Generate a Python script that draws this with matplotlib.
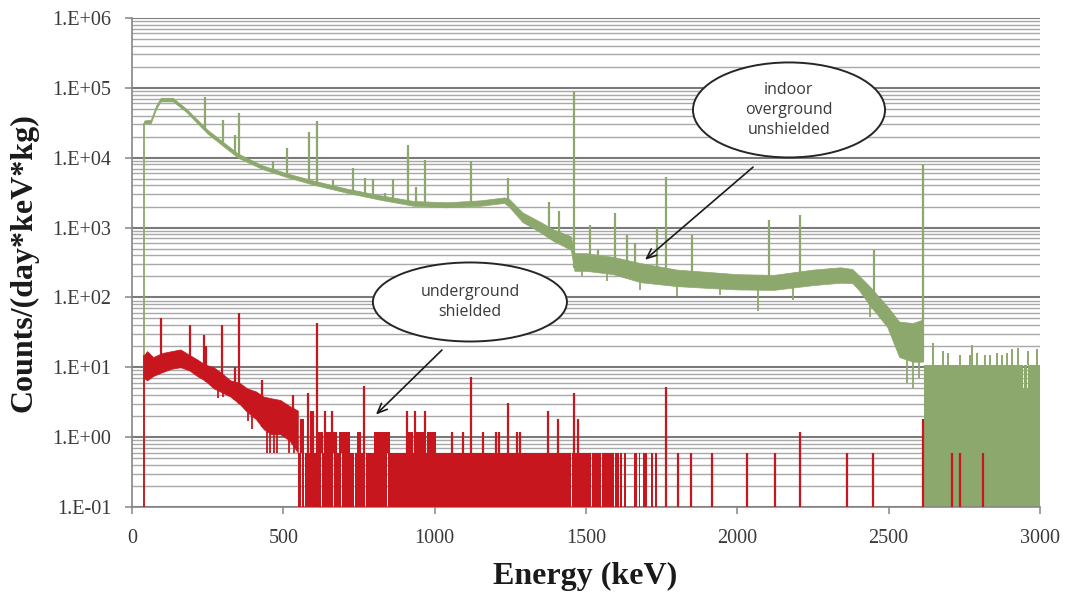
import numpy as np
import matplotlib
matplotlib.use('Agg')
import matplotlib.pyplot as plt
from matplotlib.patches import Ellipse
from matplotlib.ticker import FixedLocator, LogLocator, NullFormatter, FuncFormatter

# ---------------- data ----------------
# overground spectrum: continuum envelope (keV, low, high)
green_e = [40, 62, 80, 95, 135, 180, 250, 350, 430, 510, 600, 710, 820, 930, 1040, 1150,
           1230, 1245, 1290, 1350, 1390, 1450, 1462, 1500, 1590, 1680, 1800, 1900, 2000,
           2120, 2250, 2340, 2380, 2400, 2440, 2495, 2535, 2580, 2612]
green_lo = [3.1e4, 3.1e4, 5.0e4, 6.4e4, 6.4e4, 4.5e4, 2.2e4, 1.0e4, 6.9e3, 5.3e3, 4.1e3, 3.15e3,
            2.5e3, 2.05e3, 1.95e3, 2.05e3, 2.25e3, 2.0e3, 1.2e3, 850, 650, 480, 240, 240, 215,
            165, 145, 137, 130, 128, 150, 162, 160, 130, 75, 38, 14, 12, 12]
green_hi = [3.4e4, 3.5e4, 5.6e4, 7.2e4, 7.2e4, 5.0e4, 2.5e4, 1.15e4, 7.8e3, 6.0e3, 4.7e3, 3.6e3,
            2.9e3, 2.4e3, 2.3e3, 2.45e3, 2.7e3, 2.6e3, 1.65e3, 1.2e3, 950, 750, 430, 430, 380,
            310, 250, 232, 215, 210, 250, 270, 255, 210, 140, 75, 45, 43, 48]
# overground gamma lines (keV, peak value)
green_peak_e = [241, 300, 340, 353, 466, 512, 585, 611, 665, 730, 770, 796, 836, 862, 912, 938,
                968, 1120, 1242, 1378, 1411, 1461, 1513, 1540, 1596, 1635, 1662, 1734, 1766,
                1850, 2104, 2207, 2452, 2614]
green_peak_h = [7.5e4, 3.5e4, 2.1e4, 4.4e4, 9.0e3, 1.38e4, 2.3e4, 3.3e4, 4.8e3, 7.1e3, 5.2e3,
                5.0e3, 3.1e3, 5.0e3, 1.5e4, 3.8e3, 9.3e3, 9.0e3, 5.2e3, 2.3e3, 1.7e3, 9.0e4,
                1.1e3, 480, 1.6e3, 780, 600, 1.0e3, 5.3e3, 780, 1.3e3, 1.5e3, 480, 8.0e3]
# downward fluctuations of the overground continuum (keV, lowest value)
green_dip_e = [1486, 1569, 1678, 1800, 1942, 2068, 2184, 2438, 2560, 2580, 2600]
green_dip_v = [200, 170, 128, 105, 110, 63, 92, 52, 6, 5, 7]
# overground tail above the 2614 keV line
green_tail_start = 2618
green_tail_mid = 5.0
green_tail_top = 10.6
green_tail_gap_e = [2765, 2778, 2930, 2945, 2958, 2970, 2982]
green_tail_spike_e = [2646, 2679, 2696, 2735, 2768, 2775, 2791, 2818, 2834, 2857, 2874, 2890,
                      2907, 2927, 2960, 2990]
green_tail_spike_h = [22, 17, 16, 15, 15, 21, 16, 15, 15, 16, 15, 16, 18, 19, 17, 18]

# underground spectrum: continuum envelope (keV, low, high)
red_e = [40, 50, 70, 100, 130, 160, 190, 215, 240, 270, 300, 325, 355, 380, 410, 435, 460,
         490, 520, 548]
red_lo = [7, 6.5, 7.5, 8.5, 9.5, 10, 9, 7.5, 6.5, 5, 4.3, 3.8, 3.0, 2.3, 1.8, 1.3, 1.1, 1.1,
          0.9, 0.6]
red_hi = [15, 17, 14, 16, 17, 18, 15, 13, 11, 10, 8, 6.5, 6, 5, 4.5, 3.8, 3.6, 3.4, 2.8, 2.4]
red_peak_e = [96, 191, 238, 245, 297, 340, 354, 430, 532, 611]
red_peak_h = [51, 40, 29, 20, 40, 10, 60, 6.5, 4, 43]
red_dip_e = [283, 300, 384, 398, 446, 455, 468, 479, 520, 535]
red_dip_v = [3.6, 3.7, 1.7, 1.3, 0.6, 0.6, 0.6, 0.6, 0.6, 0.6]
# single-count level region (keV ranges filled up to one count)
red_one_count = 0.6
red_block_start = [548, 562, 573, 599, 629, 668, 695, 738, 774, 847, 1353, 1376, 1439, 1455,
                   1521, 1554, 1571, 1595, 1612, 1625, 1660, 1674, 1688, 1716, 1728]
red_block_end = [559, 570, 596, 626, 665, 692, 735, 771, 844, 1350, 1373, 1436, 1452, 1518,
                 1551, 1568, 1592, 1609, 1618, 1631, 1667, 1680, 1702, 1721, 1735]
red_lvl_start = [555, 588, 612, 640, 665, 683, 745, 800, 905, 940, 975]
red_lvl_end = [568, 600, 632, 656, 676, 720, 758, 852, 930, 965, 1005]
red_lvl_top = [1.8, 2.4, 1.2, 1.2, 1.2, 1.2, 1.2, 1.2, 1.2, 1.2, 1.2]
red_bar_e = [583, 599, 638, 660, 766, 909, 935, 968, 1056, 1094, 1120, 1161, 1202, 1213, 1243,
             1271, 1282, 1375, 1408, 1460, 1474, 1764, 1804, 1847, 1916, 2032, 2124, 2207,
             2361, 2447, 2614, 2709, 2735, 2811]
red_bar_h = [4.3, 2.4, 2.4, 2.4, 5.4, 2.4, 2.4, 2.4, 1.2, 1.2, 7.2, 1.2, 1.2, 1.2, 3.1, 1.2,
             1.2, 2.4, 1.8, 4.3, 1.8, 5.3, 0.6, 0.6, 0.6, 0.6, 0.6, 1.2, 0.6, 0.6, 1.8, 0.6,
             0.6, 0.6]

x_ticks = [0, 500, 1000, 1500, 2000, 2500, 3000]
y_ticks = [1e-1, 1e0, 1e1, 1e2, 1e3, 1e4, 1e5, 1e6]

# ---------------- figure ----------------
GREEN = '#8DA86C'
RED = '#C8161E'
YMIN = 0.1

fig = plt.figure(figsize=(10.65, 5.97), dpi=100)
ax = fig.add_axes([0.1239, 0.1508, 0.8526, 0.8191])
ax.set_yscale('log')
ax.set_xlim(0, 3000)
ax.set_ylim(YMIN, 1e6)

# grid
ax.set_axisbelow(True)
ax.yaxis.set_major_locator(FixedLocator(y_ticks))
ax.yaxis.set_minor_locator(LogLocator(base=10, subs=np.arange(2, 10)))
ax.yaxis.set_minor_formatter(NullFormatter())
ax.yaxis.grid(True, which='major', color='#7a7a7a', lw=1.5)
ax.yaxis.grid(True, which='minor', color='#a8a8a8', lw=1.0)
ax.xaxis.grid(False)

# ---- overground (green)
ge = np.array(green_e); glo = np.array(green_lo); ghi = np.array(green_hi)
ax.vlines(ge[0], YMIN, glo[0], color=GREEN, lw=1.3, zorder=2)
ax.fill_between(ge, glo, ghi, color=GREEN, lw=0.5, edgecolor=GREEN, zorder=2)
gbase = np.interp(green_peak_e, ge, glo)
ax.vlines(green_peak_e, gbase, green_peak_h, color=GREEN, lw=1.6, zorder=2)
gdb = np.interp(green_dip_e, ge, glo)
ax.vlines(green_dip_e, green_dip_v, gdb, color=GREEN, lw=1.3, zorder=2)
# tail
ax.bar(green_tail_start, green_tail_mid - YMIN, width=3000 - green_tail_start, bottom=YMIN,
       align='edge', color=GREEN, lw=0, zorder=2)
edges = [green_tail_start] + green_tail_gap_e + [3000]
for a, b in zip(edges[:-1], edges[1:]):
    s = a + (2 if a != green_tail_start else 0)
    ax.bar(s, green_tail_top - green_tail_mid, width=b - s, bottom=green_tail_mid,
           align='edge', color=GREEN, lw=0, zorder=2)
ax.vlines(green_tail_spike_e, green_tail_top, green_tail_spike_h, color=GREEN, lw=1.4, zorder=2)

# ---- underground (red)
re_ = np.array(red_e); rlo = np.array(red_lo); rhi = np.array(red_hi)
ax.vlines(re_[0], YMIN, rhi[0], color=RED, lw=1.3, zorder=3)
ax.fill_between(re_, rlo, rhi, color=RED, lw=0.5, edgecolor=RED, zorder=3)
rbase = np.interp(red_peak_e, re_, rlo)
ax.vlines(red_peak_e, rbase, red_peak_h, color=RED, lw=1.6, zorder=3)
rdb = np.interp(red_dip_e, re_, rlo)
ax.vlines(red_dip_e, red_dip_v, rdb, color=RED, lw=1.3, zorder=3)
for s, e in zip(red_block_start, red_block_end):
    ax.bar(s, red_one_count - YMIN, width=e - s, bottom=YMIN, align='edge',
           color=RED, lw=0, zorder=3)
for s, e, t in zip(red_lvl_start, red_lvl_end, red_lvl_top):
    ax.bar(s, t - red_one_count, width=e - s, bottom=red_one_count, align='edge',
           color=RED, lw=0, zorder=3)
ax.vlines(red_bar_e, YMIN, red_bar_h, color=RED, lw=1.6, zorder=3)

# ---------------- axes styling ----------------
for sp in ['top', 'right']:
    ax.spines[sp].set_visible(False)
for sp in ['left', 'bottom']:
    ax.spines[sp].set_color('#868686')
    ax.spines[sp].set_linewidth(1.2)

ax.xaxis.set_major_locator(FixedLocator(x_ticks))
ax.set_xticklabels([str(v) for v in x_ticks])
ax.yaxis.set_major_formatter(FuncFormatter(lambda v, p: "1.E%+03d" % int(round(np.log10(v)))))
ax.tick_params(axis='both', which='major', direction='out', length=5, width=1.1,
               color='#868686', labelcolor='#3a3a3a')
ax.tick_params(axis='x', pad=11)
ax.tick_params(axis='y', pad=10)
ax.tick_params(axis='y', which='minor', length=0)
for lab in ax.get_xticklabels() + ax.get_yticklabels():
    lab.set_family('Liberation Serif')
    lab.set_fontsize(14.5)

ax.set_ylabel('Counts/(day*keV*kg)', family='Liberation Serif', fontweight='bold',
              fontsize=23, color='#1a1a1a')
ax.yaxis.set_label_coords(-0.103, 0.5)
ax.set_xlabel('Energy (keV)', family='Liberation Serif', fontweight='bold',
              fontsize=23, color='#1a1a1a')
ax.xaxis.set_label_coords(0.499, -0.113)

# ---------------- annotations ----------------
ell1 = Ellipse((0.7236, 0.8119), 0.2115, 0.1943, transform=ax.transAxes,
               facecolor='white', edgecolor='#262626', lw=1.4, zorder=6)
ax.add_patch(ell1)
ax.text(0.7236, 0.8119, 'indoor\noverground\nunshielded', transform=ax.transAxes,
        ha='center', va='center', fontsize=11.5, family='Open Sans', color='#3a3a3a',
        linespacing=1.3, zorder=7)
ax.annotate('', xy=(1695, 345), xycoords='data', xytext=(0.684, 0.695),
            textcoords='axes fraction',
            arrowprops=dict(arrowstyle='->,head_length=0.7,head_width=0.3', color='#1a1a1a',
                            lw=1.2, shrinkA=0, shrinkB=0), zorder=7)

ell2 = Ellipse((0.3722, 0.4192), 0.2137, 0.1616, transform=ax.transAxes,
               facecolor='white', edgecolor='#262626', lw=1.4, zorder=6)
ax.add_patch(ell2)
ax.text(0.3722, 0.4192, 'underground\nshielded', transform=ax.transAxes,
        ha='center', va='center', fontsize=11.5, family='Open Sans', color='#3a3a3a',
        linespacing=1.3, zorder=7)
ax.annotate('', xy=(806, 2.1), xycoords='data', xytext=(0.3414, 0.321),
            textcoords='axes fraction',
            arrowprops=dict(arrowstyle='->,head_length=0.7,head_width=0.3', color='#1a1a1a',
                            lw=1.2, shrinkA=0, shrinkB=0), zorder=7)

fig.savefig('out.png', dpi=100, facecolor='white')
